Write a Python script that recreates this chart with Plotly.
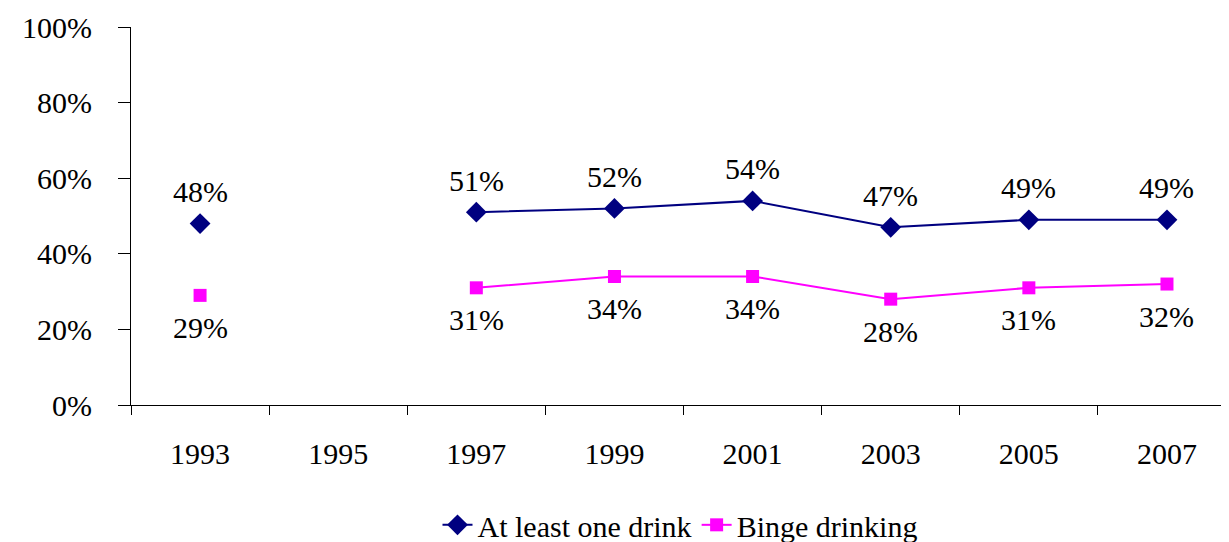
import plotly.graph_objects as go

years = ["1993", "1995", "1997", "1999", "2001", "2003", "2005", "2007"]
at_least_one = [48, None, 51, 52, 54, 47, 49, 49]
binge = [29, None, 31, 34, 34, 28, 31, 32]
y_ticks = [0, 20, 40, 60, 80, 100]

FONT = "Liberation Serif, Times New Roman, serif"
NAVY = "#000080"
MAGENTA = "#FF00FF"

fig = go.Figure()
fig.add_trace(go.Scatter(
    x=years, y=at_least_one, name="At least one drink", mode="lines+markers",
    line=dict(color=NAVY, width=2), connectgaps=False,
    marker=dict(symbol="diamond", size=16, color=NAVY),
))
fig.add_trace(go.Scatter(
    x=years, y=binge, name="Binge drinking", mode="lines+markers",
    line=dict(color=MAGENTA, width=2), connectgaps=False,
    marker=dict(symbol="square", size=13, color=MAGENTA),
))

annotations = []
for i, v in enumerate(at_least_one):
    if v is not None:
        annotations.append(dict(x=i, y=v, xref="x", yref="y", text=f"{v}%",
                                showarrow=False, yshift=32,
                                font=dict(family=FONT, size=30, color="black")))
for i, v in enumerate(binge):
    if v is not None:
        annotations.append(dict(x=i, y=v, xref="x", yref="y", text=f"{v}%",
                                showarrow=False, yshift=-32,
                                font=dict(family=FONT, size=30, color="black")))

fig.update_layout(
    width=1221, height=534,
    margin=dict(l=123, r=0, t=19, b=137, autoexpand=False),
    paper_bgcolor="white", plot_bgcolor="white",
    font=dict(family=FONT, size=30, color="black"),
    showlegend=True,
    legend=dict(orientation="h", x=0.5, xanchor="center", y=-0.317, yanchor="middle",
                font=dict(family=FONT, size=30), tracegroupgap=0),
    annotations=annotations,
)
fig.update_xaxes(
    type="category", range=[-0.5, 7.449], tickson="boundaries",
    showline=True, linecolor="black", linewidth=1,
    ticks="outside", ticklen=9, tickcolor="black", tickwidth=1,
    showgrid=False, zeroline=False, ticklabelstandoff=22,
    tickfont=dict(family=FONT, size=30), automargin=False,
)
fig.update_yaxes(
    range=[0, 100], tickvals=y_ticks, ticktext=[f"{t}%" for t in y_ticks],
    showline=True, linecolor="black", linewidth=1,
    ticks="outside", ticklen=12, tickcolor="black", tickwidth=1,
    showgrid=False, zeroline=False, ticklabelstandoff=20,
    tickfont=dict(family=FONT, size=30), automargin=False,
)

fig.write_html("out.html")
